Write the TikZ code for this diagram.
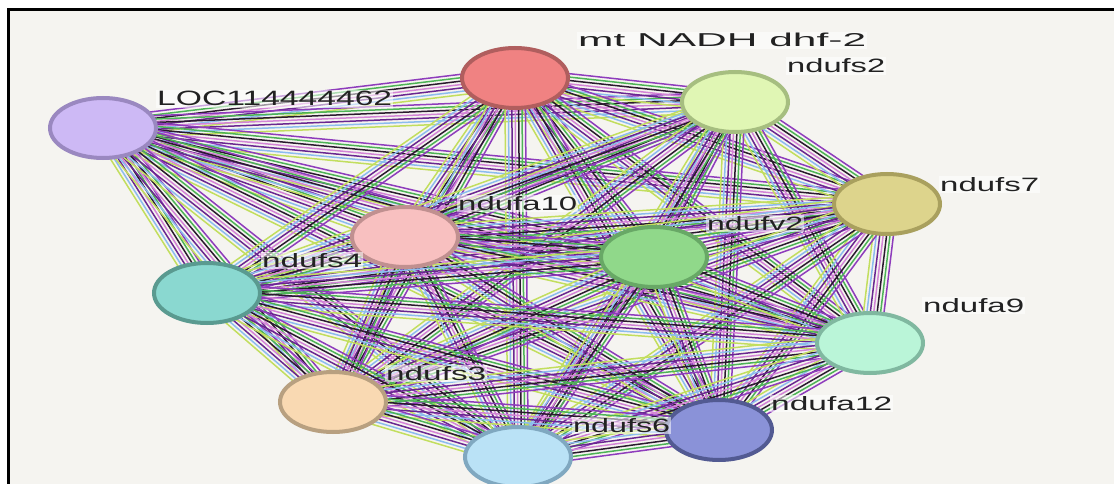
\documentclass[tikz,border=0pt]{standalone}
\usepackage{fontspec}
\setmainfont{Liberation Sans}
\usetikzlibrary{calc,shapes.geometric}
\definecolor{bg}{HTML}{F5F4F0}
\definecolor{labtxt}{HTML}{222222}
% edge colours
\definecolor{eA}{HTML}{C2DE5E}
\definecolor{eB}{HTML}{3E9FA0}
\definecolor{eC}{HTML}{8CBCEE}
\definecolor{eD}{HTML}{6A2690}
\definecolor{eE}{HTML}{D384D6}
\definecolor{eF}{HTML}{2A1A2E}
\definecolor{eG}{HTML}{4DB356}
\definecolor{eH}{HTML}{8E3CBC}
% node colours
\definecolor{fLOC}{HTML}{CDB9F5}\definecolor{bLOC}{HTML}{9A88C0}
\definecolor{fmt}{HTML}{F08282}\definecolor{bmt}{HTML}{B05E5E}
\definecolor{fs2}{HTML}{E0F6B4}\definecolor{bs2}{HTML}{A6BE80}
\definecolor{fs7}{HTML}{DDD48C}\definecolor{bs7}{HTML}{A9A05E}
\definecolor{fa10}{HTML}{F8C0C0}\definecolor{ba10}{HTML}{C09090}
\definecolor{fv2}{HTML}{90D88A}\definecolor{bv2}{HTML}{68A866}
\definecolor{fs4}{HTML}{8AD8D0}\definecolor{bs4}{HTML}{5A9A90}
\definecolor{fa9}{HTML}{BAF5D8}\definecolor{ba9}{HTML}{80B8A0}
\definecolor{fs3}{HTML}{F9D9B2}\definecolor{bs3}{HTML}{B8A080}
\definecolor{fa12}{HTML}{8A92D8}\definecolor{ba12}{HTML}{525A92}
\definecolor{fs6}{HTML}{BAE2F6}\definecolor{bs6}{HTML}{80A8C0}
\begin{document}
\begin{tikzpicture}[x=1pt,y=-1pt,
  prot/.style={ellipse, line width=4pt, minimum width=106pt, minimum height=60pt, inner sep=0pt},
  lab/.style={anchor=base west, inner xsep=1pt, inner ysep=1.5pt, fill=white, fill opacity=0.55, text opacity=1, text=labtxt},
  link/.style={line width=1.5pt}]
\useasboundingbox (0,0) rectangle (1114,484);
\fill[white] (0,0) rectangle (1114,484);
\fill[bg] (8,9.5) rectangle (1114,484);
% protein positions
\coordinate (LOC) at (103,128);
\coordinate (mt) at (515,78);
\coordinate (s2) at (735,102);
\coordinate (s7) at (887,204);
\coordinate (a10) at (405,237);
\coordinate (v2) at (654,257);
\coordinate (s4) at (207,293);
\coordinate (a9) at (870,343);
\coordinate (s3) at (333,402);
\coordinate (a12) at (719,430);
\coordinate (s6) at (518,457);
% evidence links (every pair)
\foreach \a [count=\i] in {LOC,mt,s2,s7,a10,v2,s4,a9,s3,a12,s6}{
  \foreach \b [count=\j] in {LOC,mt,s2,s7,a10,v2,s4,a9,s3,a12,s6}{
    \ifnum\j>\i
      \foreach \c [count=\k] in {eA,eC,eD,eE,eF,eG,eH}{
        \pgfmathsetmacro\off{(\k-4)*3.4}
        \draw[link,\c] ($(\a)!\off pt!90:(\b)$) -- ($(\b)!\off pt!-90:(\a)$);
      }
    \fi
  }
}
% proteins
\foreach \n in {LOC,mt,s2,s7,a10,v2,s4,a9,s3,a12,s6}{
  \node[prot, fill=f\n, draw=b\n] (n\n) at (\n) {};
}
% labels
\node[lab] (tLOC) at (156,106) {\resizebox{235pt}{14.5pt}{LOC114444462}};
\node[lab] (tmt) at (577,47) {\resizebox{288pt}{13.5pt}{mt NADH dhf-2}};
\node[lab] (ts2) at (786,73) {\resizebox{98pt}{14pt}{ndufs2}};
\node[lab] (ts7) at (939,191) {\resizebox{99pt}{14pt}{ndufs7}};
\node[lab] (ta10) at (457,210) {\resizebox{119pt}{14pt}{ndufa10}};
\node[lab] (tv2) at (706,230) {\resizebox{96pt}{14pt}{ndufv2}};
\node[lab] (ts4) at (261,267) {\resizebox{100pt}{14pt}{ndufs4}};
\node[lab] (ta9) at (922,312) {\resizebox{101pt}{14pt}{ndufa9}};
\node[lab] (ts3) at (385,380) {\resizebox{100pt}{14pt}{ndufs3}};
\node[lab] (ta12) at (770,410) {\resizebox{121pt}{14pt}{ndufa12}};
\node[lab] (ts6) at (572,432) {\resizebox{97pt}{14pt}{ndufs6}};
% frame
\draw[line width=3pt] (8,484) -- (8,9.5) -- (1114,9.5);
\end{tikzpicture}
\end{document}
